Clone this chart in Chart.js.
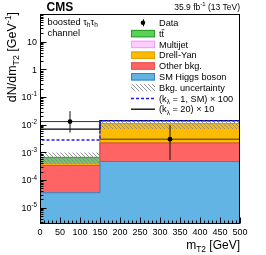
<!DOCTYPE html>
<html><head><meta charset="utf-8">
<script src="https://cdn.jsdelivr.net/npm/chart.js@4/dist/chart.umd.min.js"></script>
<style>html,body{margin:0;padding:0;background:#fff;}#wrap{width:266px;height:255px;}</style>
</head><body><div id="wrap"><canvas id="c" width="266" height="255"></canvas></div>
<script>
// ---- data ----
const binEdges = [0, 150, 500];
const higgs    = [3.5e-5, 4.7e-4];
const otherBkg = [3.05e-4, 1.73e-3];
const drellYan = [6.0e-5, 8.8e-3];
const multijet = [2.0e-6, 2.0e-5];
const ttbar    = [2.6e-4, 5.0e-5];
const bkgUncUp   = [1.0e-3, 1.35e-2];
const bkgUncDown = [3.85e-4, 7.0e-3];
const smHHx100   = [2.8e-3, 1.4e-2];
const kl20x10    = [6.9e-3, 1.4e-2];
const dataX       = [75, 325];
const dataY       = [1.3e-2, 3.0e-3];
const dataErrLow  = [5.2e-3, 5.3e-4];
const dataErrHigh = [3.1e-2, 9.7e-3];
const xTickValues = [0, 50, 100, 150, 200, 250, 300, 350, 400, 450, 500];
const yTickValues = [10, 1, 0.1, 0.01, 0.001, 0.0001, 0.00001];
const yTickLabels = [['10',''], ['1',''], ['10','-1'], ['10','-2'], ['10','-3'], ['10','-4'], ['10','-5']];
const yMin = 2.7e-6, yMax = 100;

const legendItems = [
  {type:'data', label:[['Data',0]]},
  {type:'box', fill:'#5ad25a', border:'#2a9a2a', label:[['tt',0]], bar:true},
  {type:'box', fill:'#ffccff', border:'#f0a0f0', label:[['Multijet',0]]},
  {type:'box', fill:'#ffbb00', border:'#e0a000', label:[['Drell-Yan',0]]},
  {type:'box', fill:'#ff6464', border:'#e05050', label:[['Other bkg.',0]]},
  {type:'box', fill:'#62b4e4', border:'#3a80c0', label:[['SM Higgs boson',0]]},
  {type:'hatch', label:[['Bkg. uncertainty',0]]},
  {type:'dash', label:[['(k',0],['λ',1],[' = 1, SM) × 100',0]]},
  {type:'line', label:[['(k',0],['λ',1],[' = 20) × 10',0]]}
];

// ---- helpers ----
function stepPts(vals){
  const p = [];
  for (let i=0;i<vals.length;i++) p.push({x:binEdges[i], y:vals[i]});
  p.push({x:binEdges[binEdges.length-1], y:vals[vals.length-1]});
  return p;
}
function stepPtsClosed(vals){
  const p = [{x:binEdges[0], y:yMin}].concat(stepPts(vals));
  p.push({x:binEdges[binEdges.length-1], y:yMin});
  return p;
}
function cumulate(list){
  const out=[]; let acc=[0,0];
  for (const a of list){ acc = acc.map((v,i)=>v+a[i]); out.push(acc.slice()); }
  return out;
}
const [cHiggs, cOther, cDY, cMJ, cTT] = cumulate([higgs, otherBkg, drellYan, multijet, ttbar]);

function makeHatch(){
  const c = document.createElement('canvas'); c.width=4; c.height=4;
  const g = c.getContext('2d');
  g.strokeStyle='#8a8a8a'; g.lineWidth=0.9;
  g.beginPath(); g.moveTo(0,0); g.lineTo(4,4); g.moveTo(-1,3); g.lineTo(1,5); g.moveTo(3,-1); g.lineTo(5,1); g.stroke();
  return g.createPattern(c,'repeat');
}
const hatch = makeHatch();

const FONT = '"Liberation Sans", Arial, Helvetica, sans-serif';
function fontStr(s, weight){ return (weight ? weight+' ' : '') + s + 'px ' + FONT; }
function richWidth(ctx, parts, size, weight){
  let w=0;
  for (const [t,k] of parts){ const s = k? size*0.7 : size; ctx.font = fontStr(s, weight); w += ctx.measureText(t).width; }
  return w;
}
function drawRich(ctx, parts, x, y, size, align, weight){
  const w = richWidth(ctx, parts, size, weight);
  let cx = align==='right' ? x-w : (align==='center' ? x-w/2 : x);
  ctx.textBaseline='alphabetic'; ctx.textAlign='left';
  for (const [t,k] of parts){
    const s = k? size*0.7 : size;
    ctx.font = fontStr(s, weight);
    const dy = k===1 ? size*0.25 : (k===2 ? -size*0.42 : 0);
    ctx.fillText(t, cx, y+dy);
    cx += ctx.measureText(t).width;
  }
  return w;
}

// ---- datasets ----
const datasets = [];
for (let i=0;i<dataX.length;i++){
  datasets.push({data:[{x:dataX[i],y:dataErrLow[i]},{x:dataX[i],y:dataErrHigh[i]}], borderColor:'#111', borderWidth:1, pointRadius:0, fill:false});
  datasets.push({data:[{x:binEdges[i],y:dataY[i]},{x:binEdges[i+1],y:dataY[i]}], borderColor:'#333', borderWidth:1, pointRadius:0, fill:false});
}
datasets.unshift({data:dataX.map((x,i)=>({x, y:dataY[i]})), showLine:false, pointRadius:2.4, pointBackgroundColor:'#000', pointBorderWidth:0, fill:false});
datasets.push({data:stepPtsClosed(smHHx100), stepped:true, borderColor:'#1c1cf0', borderWidth:1.5, borderDash:[3,2], pointRadius:0, fill:false});
datasets.push({data:stepPtsClosed(kl20x10), stepped:true, borderColor:'#000', borderWidth:1.3, pointRadius:0, fill:false});
const hatchUpIdx = datasets.length;
datasets.push({data:stepPts(bkgUncUp), stepped:true, borderWidth:0, borderColor:'rgba(0,0,0,0)', pointRadius:0, fill:{target:hatchUpIdx+1}, backgroundColor:hatch});
datasets.push({data:stepPts(bkgUncDown), stepped:true, borderWidth:0, borderColor:'rgba(0,0,0,0)', pointRadius:0, fill:false});
const stack = [
  [cHiggs, '#62b4e4', '#3a80c0'],
  [cOther, '#ff6464', '#c84848'],
  [cDY,    '#ffbb00', '#d89c00'],
  [cMJ,    '#ffccff', '#f0a0f0'],
  [cTT,    '#5ad25a', '#2a9a2a']
];
for (const [vals, f, b] of stack){
  datasets.push({data:stepPts(vals), stepped:true, borderColor:b, borderWidth:1, pointRadius:0, fill:'start', backgroundColor:f});
}

// ---- decorations plugin ----
const deco = {
  id:'deco',
  afterDatasetsDraw(chart){
    const ctx = chart.ctx, xs = chart.scales.x, ys = chart.scales.y, a = chart.chartArea;
    ctx.save();
    ctx.strokeStyle='#000'; ctx.lineWidth=1;
    ctx.strokeRect(Math.round(a.left)+0.5, Math.round(a.top)+0.5, Math.round(a.right-a.left)-1, Math.round(a.bottom-a.top)-1);
    const L = Math.round(a.left)+0.5, B = Math.round(a.bottom)-0.5;
    ctx.beginPath();
    for (let e=-6;e<=2;e++){
      for (let k=1;k<=9;k++){
        const v = k*Math.pow(10,e);
        if (v<yMin*0.999 || v>yMax*1.001) continue;
        const py = Math.round(ys.getPixelForValue(v))+0.5;
        ctx.moveTo(L, py); ctx.lineTo(L+(k===1?6:3), py);
      }
    }
    for (let v=0; v<=500; v+=10){
      const px = Math.round(xs.getPixelForValue(v))+0.5;
      ctx.moveTo(px, B); ctx.lineTo(px, B-(v%50===0?6:3));
    }
    ctx.stroke();
    ctx.restore();
  },
  afterDraw(chart){
    const ctx = chart.ctx, xs = chart.scales.x, ys = chart.scales.y, a = chart.chartArea;
    ctx.save();
    ctx.fillStyle='#000';
    ctx.font=fontStr(9); ctx.textAlign='center'; ctx.textBaseline='alphabetic';
    for (const v of xTickValues) ctx.fillText(String(v), xs.getPixelForValue(v), a.bottom+11.5);
    yTickValues.forEach((v,i)=>{
      const [b,e] = yTickLabels[i];
      const py = ys.getPixelForValue(v);
      const parts = e ? [[b,0],[e,2]] : [[b,0]];
      drawRich(ctx, parts, a.left-3, py+3.2, 9, 'right');
    });
    drawRich(ctx, [['m',0],['T2',1],[' [GeV]',0]], a.right, 249, 12, 'right');
    ctx.save(); ctx.translate(16, 12); ctx.rotate(-Math.PI/2);
    drawRich(ctx, [['dN/dm',0],['T2',1],[' [GeV',0],['-1',2],[']',0]], 0, 0, 12.5, 'right');
    ctx.restore();
    drawRich(ctx, [['CMS',0]], 46.5, 10.8, 12, 'left', 'bold');
    drawRich(ctx, [['35.9 fb',0],['-1',2],[' (13 TeV)',0]], a.right, 9.5, 8.5, 'right');
    drawRich(ctx, [['boosted τ',0],['h',1],['τ',0],['h',1]], 47.5, 25, 9.3, 'left');
    drawRich(ctx, [['channel',0]], 47.5, 36, 9.3, 'left');
    const bx0 = 131, bx1 = 155, tx = 159;
    legendItems.forEach((it,i)=>{
      const cy = 22.8 + 10.8*i;
      if (it.type==='data'){
        ctx.fillStyle='#000';
        ctx.beginPath(); ctx.arc(143, cy, 2.3, 0, 2*Math.PI); ctx.fill();
        ctx.beginPath(); ctx.lineWidth=1; ctx.strokeStyle='#000'; ctx.moveTo(143.5, cy-3.5); ctx.lineTo(143.5, cy+3.5); ctx.stroke();
      } else if (it.type==='box'){
        ctx.fillStyle=it.fill; ctx.fillRect(bx0, cy-3.7, bx1-bx0, 7.4);
        ctx.strokeStyle=it.border; ctx.lineWidth=1; ctx.strokeRect(bx0+0.5, cy-3.7+0.5, bx1-bx0-1, 6.4);
      } else if (it.type==='hatch'){
        ctx.fillStyle=hatch; ctx.fillRect(bx0, cy-3.7, bx1-bx0, 7.4);
      } else if (it.type==='dash'){
        ctx.strokeStyle='#1c1cf0'; ctx.lineWidth=1.5; ctx.setLineDash([3,2]);
        ctx.beginPath(); ctx.moveTo(bx0, cy); ctx.lineTo(bx1, cy); ctx.stroke(); ctx.setLineDash([]);
      } else if (it.type==='line'){
        ctx.strokeStyle='#000'; ctx.lineWidth=1.3;
        ctx.beginPath(); ctx.moveTo(bx0, cy); ctx.lineTo(bx1, cy); ctx.stroke();
      }
      ctx.fillStyle='#000';
      drawRich(ctx, it.label, tx, cy+3.2, 9.2, 'left');
      if (it.bar){
        ctx.font=fontStr(9.2);
        const w1 = ctx.measureText('t').width;
        ctx.strokeStyle='#000'; ctx.lineWidth=0.7;
        ctx.beginPath(); ctx.moveTo(tx+w1, cy-3.9); ctx.lineTo(tx+2*w1+0.3, cy-3.9); ctx.stroke();
      }
    });
    ctx.restore();
  }
};

new Chart(document.getElementById('c'), {
  type:'line',
  data:{datasets},
  options:{
    responsive:false, animation:false, events:[],
    layout:{padding:{left:40, right:26, top:14, bottom:31.5}},
    scales:{
      x:{type:'linear', min:0, max:500, display:false},
      y:{type:'logarithmic', min:yMin, max:yMax, display:false}
    },
    plugins:{legend:{display:false}, tooltip:{enabled:false}, filler:{drawTime:'beforeDatasetDraw'}},
    elements:{line:{tension:0}}
  },
  plugins:[deco]
});
</script></body></html>
